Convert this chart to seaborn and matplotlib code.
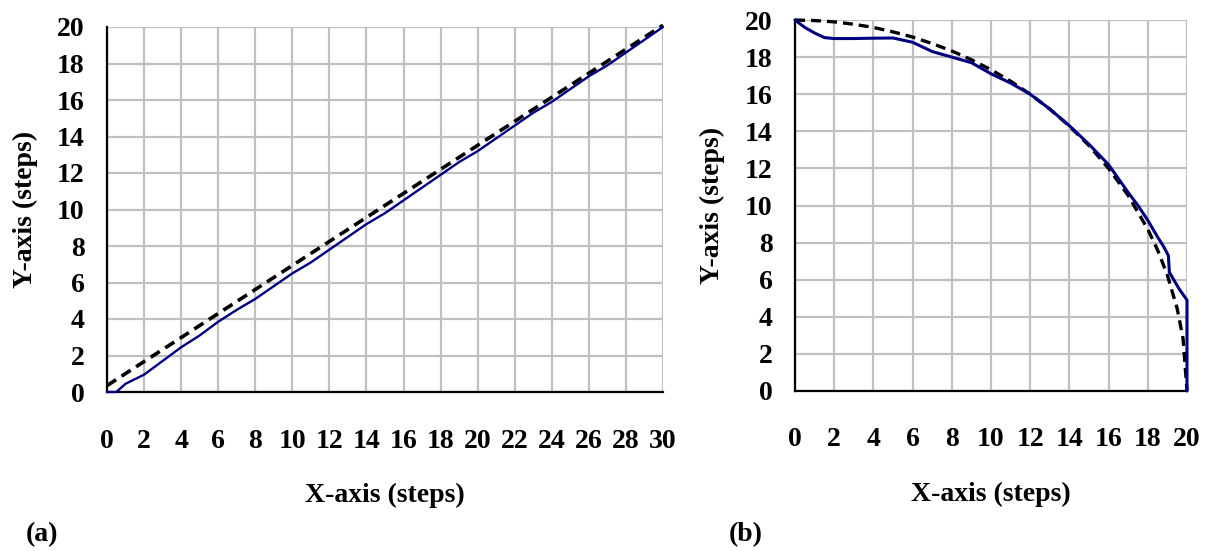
import matplotlib
matplotlib.use("Agg")
import matplotlib.pyplot as plt
import numpy as np
import pandas as pd
import seaborn as sns

# (a) straight path
line_x_ideal = [0, 30]
line_y_ideal = [0.35, 20.1]
line_x_real = [0, 0.5, 1, 2, 3, 4, 5, 6, 7, 8, 9, 10, 11, 12, 13, 14, 15,
               16, 17, 18, 19, 20, 21, 22, 23, 24, 25, 26, 27, 28, 29, 30]
line_y_real = [0, 0.0, 0.45, 0.95, 1.7, 2.45, 3.1, 3.85, 4.5, 5.1, 5.8, 6.5,
               7.1, 7.8, 8.5, 9.2, 9.8, 10.5, 11.2, 11.9, 12.6, 13.2, 13.9,
               14.6, 15.3, 15.9, 16.6, 17.3, 17.9, 18.6, 19.3, 20.0]

# (b) quarter-circle path
arc_x_ideal = [0, 1, 2, 3, 4, 5, 6, 7, 8, 9, 10, 11, 12, 13, 14, 15, 16,
               17, 18, 18.5, 19, 19.5, 19.8, 20]
arc_y_ideal = [20, 19.97, 19.9, 19.77, 19.6, 19.36, 19.08, 18.73, 18.33,
               17.86, 17.32, 16.7, 16.0, 15.2, 14.28, 13.23, 12.0, 10.54,
               8.72, 7.6, 6.24, 4.44, 2.82, 0]
arc_x_real = [0, 0.5, 1, 1.5, 2, 3, 4, 5, 6, 7, 8, 9, 10, 11, 12, 13, 14,
              15, 16, 17, 17.5, 18, 18.5, 18.8, 19.05, 19.1, 19.6, 20, 20]
arc_y_real = [20, 19.6, 19.3, 19.05, 19.0, 19.0, 19.02, 19.03, 18.8, 18.3,
              18.0, 17.7, 17.1, 16.6, 16.0, 15.2, 14.3, 13.3, 12.2, 10.7,
              10.0, 9.2, 8.3, 7.8, 7.3, 6.4, 5.5, 4.9, 0]

sns.set_style("white")
plt.rcParams["font.family"] = ["Liberation Serif", "DejaVu Serif"]
plt.rcParams["font.weight"] = "bold"
plt.rcParams["font.size"] = 20
plt.rcParams["text.color"] = "black"
plt.rcParams["axes.labelcolor"] = "black"
plt.rcParams["xtick.color"] = "black"
plt.rcParams["ytick.color"] = "black"

fig = plt.figure(figsize=(12.1, 5.51), dpi=100)
ax1 = fig.add_axes([107 / 1210, 1 - 392 / 551, 556 / 1210, 365 / 551])
ax2 = fig.add_axes([795 / 1210, 1 - 391 / 551, 392 / 1210, 371 / 551])

navy = "#000080"


def style_axis(ax, xmax, xpad):
    ax.set_xlim(0, xmax)
    ax.set_ylim(0, 20)
    ax.set_xticks(np.arange(0, xmax + 1, 2))
    ax.set_yticks(np.arange(0, 21, 2))
    ax.grid(True, color="#c0c0c0", linewidth=1.6)
    ax.set_axisbelow(True)
    for side in ["top", "right"]:
        ax.spines[side].set_visible(False)
    for side in ["left", "bottom"]:
        ax.spines[side].set_color("black")
        ax.spines[side].set_linewidth(1.6)
    ax.tick_params(axis="both", direction="out", length=8, width=1.6,
                   color="black", labelcolor="black", labelsize=20)
    ax.tick_params(axis="x", pad=xpad)
    ax.tick_params(axis="y", pad=8)
    for lab in ax.get_xticklabels() + ax.get_yticklabels():
        lab.set_fontweight("bold")


df_a_real = pd.DataFrame({"x": line_x_real, "y": line_y_real})
df_a_ideal = pd.DataFrame({"x": line_x_ideal, "y": line_y_ideal})
sns.lineplot(data=df_a_ideal, x="x", y="y", ax=ax1, color="black",
             linewidth=2.6, estimator=None, sort=False,
             clip_on=False, zorder=3).lines[-1].set_dashes((3, 1.8))
sns.lineplot(data=df_a_real, x="x", y="y", ax=ax1, color=navy,
             linewidth=1.7, estimator=None, sort=False, clip_on=False,
             zorder=4)

df_b_real = pd.DataFrame({"x": arc_x_real, "y": arc_y_real})
df_b_ideal = pd.DataFrame({"x": arc_x_ideal, "y": arc_y_ideal})
sns.lineplot(data=df_b_ideal, x="x", y="y", ax=ax2, color="black",
             linewidth=2.4, estimator=None, sort=False,
             clip_on=False, zorder=3).lines[-1].set_dashes((3, 1.8))
sns.lineplot(data=df_b_real, x="x", y="y", ax=ax2, color=navy,
             linewidth=2.2, estimator=None, sort=False, clip_on=False,
             zorder=4)

style_axis(ax1, 30, 19)
style_axis(ax2, 20, 18)

for ax, ylx, xly in [(ax1, -0.147, -0.282), (ax2, -0.21, -0.28)]:
    ax.set_xlabel("X-axis (steps)", fontsize=20, fontweight="bold",
                  va="center", color="black")
    ax.set_ylabel("Y-axis (steps)", fontsize=20, fontweight="bold",
                  va="center", color="black")
    ax.xaxis.set_label_coords(0.5, xly)
    ax.yaxis.set_label_coords(ylx, 0.5)

fig.text(42 / 1210, 1 - 535 / 551, "(a)", fontsize=20, fontweight="bold",
         ha="center", va="center", color="black")
fig.text(746 / 1210, 1 - 535 / 551, "(b)", fontsize=20, fontweight="bold",
         ha="center", va="center", color="black")

fig.savefig("out.png", dpi=100)
